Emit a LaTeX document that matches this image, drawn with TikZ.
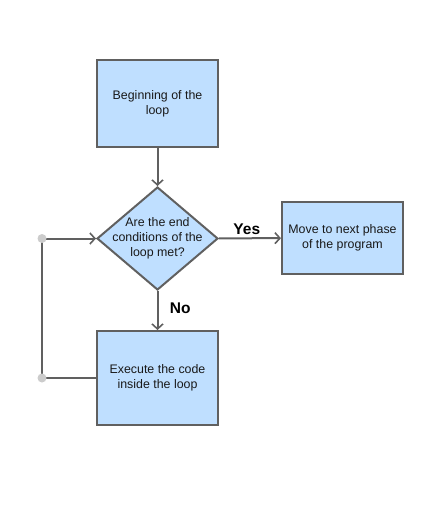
\documentclass[tikz,border=0pt]{standalone}
\usepackage{fontspec}
\setmainfont{Liberation Sans}
\usetikzlibrary{shapes.geometric,arrows.meta}
\definecolor{boxfill}{HTML}{BFDFFF}
\definecolor{edge}{HTML}{606060}
\definecolor{dotc}{HTML}{CCCCCC}
\begin{document}
\begin{tikzpicture}[x=1pt,y=-1pt,
  every node/.style={font=\fontsize{12.4}{15}\selectfont, text=black!90},
  procbox/.style={draw=edge, line width=2pt, fill=boxfill, minimum width=121pt, align=center, inner sep=0pt},
  decbox/.style={diamond, draw=edge, line width=2pt, fill=boxfill, minimum width=121pt, minimum height=103pt, inner sep=0pt},
  dectext/.style={align=center, inner sep=0pt},
  conn/.style={draw=edge, line width=2pt, -{Straight Barb[length=5pt,width=11pt,line width=1.6pt]}},
  plain/.style={draw=edge, line width=2pt},
  lbl/.style={font=\fontsize{15.5}{18}\selectfont\bfseries, text=black},
  pt/.style={circle, fill=dotc, inner sep=0pt, minimum size=9pt}]
\useasboundingbox (0,0) rectangle (427,509);
\node[procbox, minimum height=87pt] (begin) at (157.5,103.5) {Beginning of the\\loop};
\node[decbox] (cond) at (157.5,238.5) {};
\node[dectext] (condtext) at (cond.center) {Are the end\\conditions of the\\loop met?};
\node[procbox, minimum height=72pt] (next) at (342.5,238) {Move to next phase\\of the program};
\node[procbox, minimum height=94pt] (exec) at (157.5,378) {Execute the code\\inside the loop};
\coordinate (ltop) at (42,238.5);
\coordinate (lbot) at (42,378);
\draw[conn] (begin) -- (cond);
\draw[conn] (cond) -- (next) node[lbl, pos=0.45, above, yshift=-1pt] {Yes};
\draw[conn] (cond) -- (exec) node[lbl, pos=0.45, right, xshift=8pt] {No};
\draw[plain] (exec.west) -- (lbot) -- (ltop);
\draw[conn] (ltop) -- (cond.west);
\node[pt] (d1) at (ltop) {};
\node[pt] (d2) at (lbot) {};
\end{tikzpicture}
\end{document}
